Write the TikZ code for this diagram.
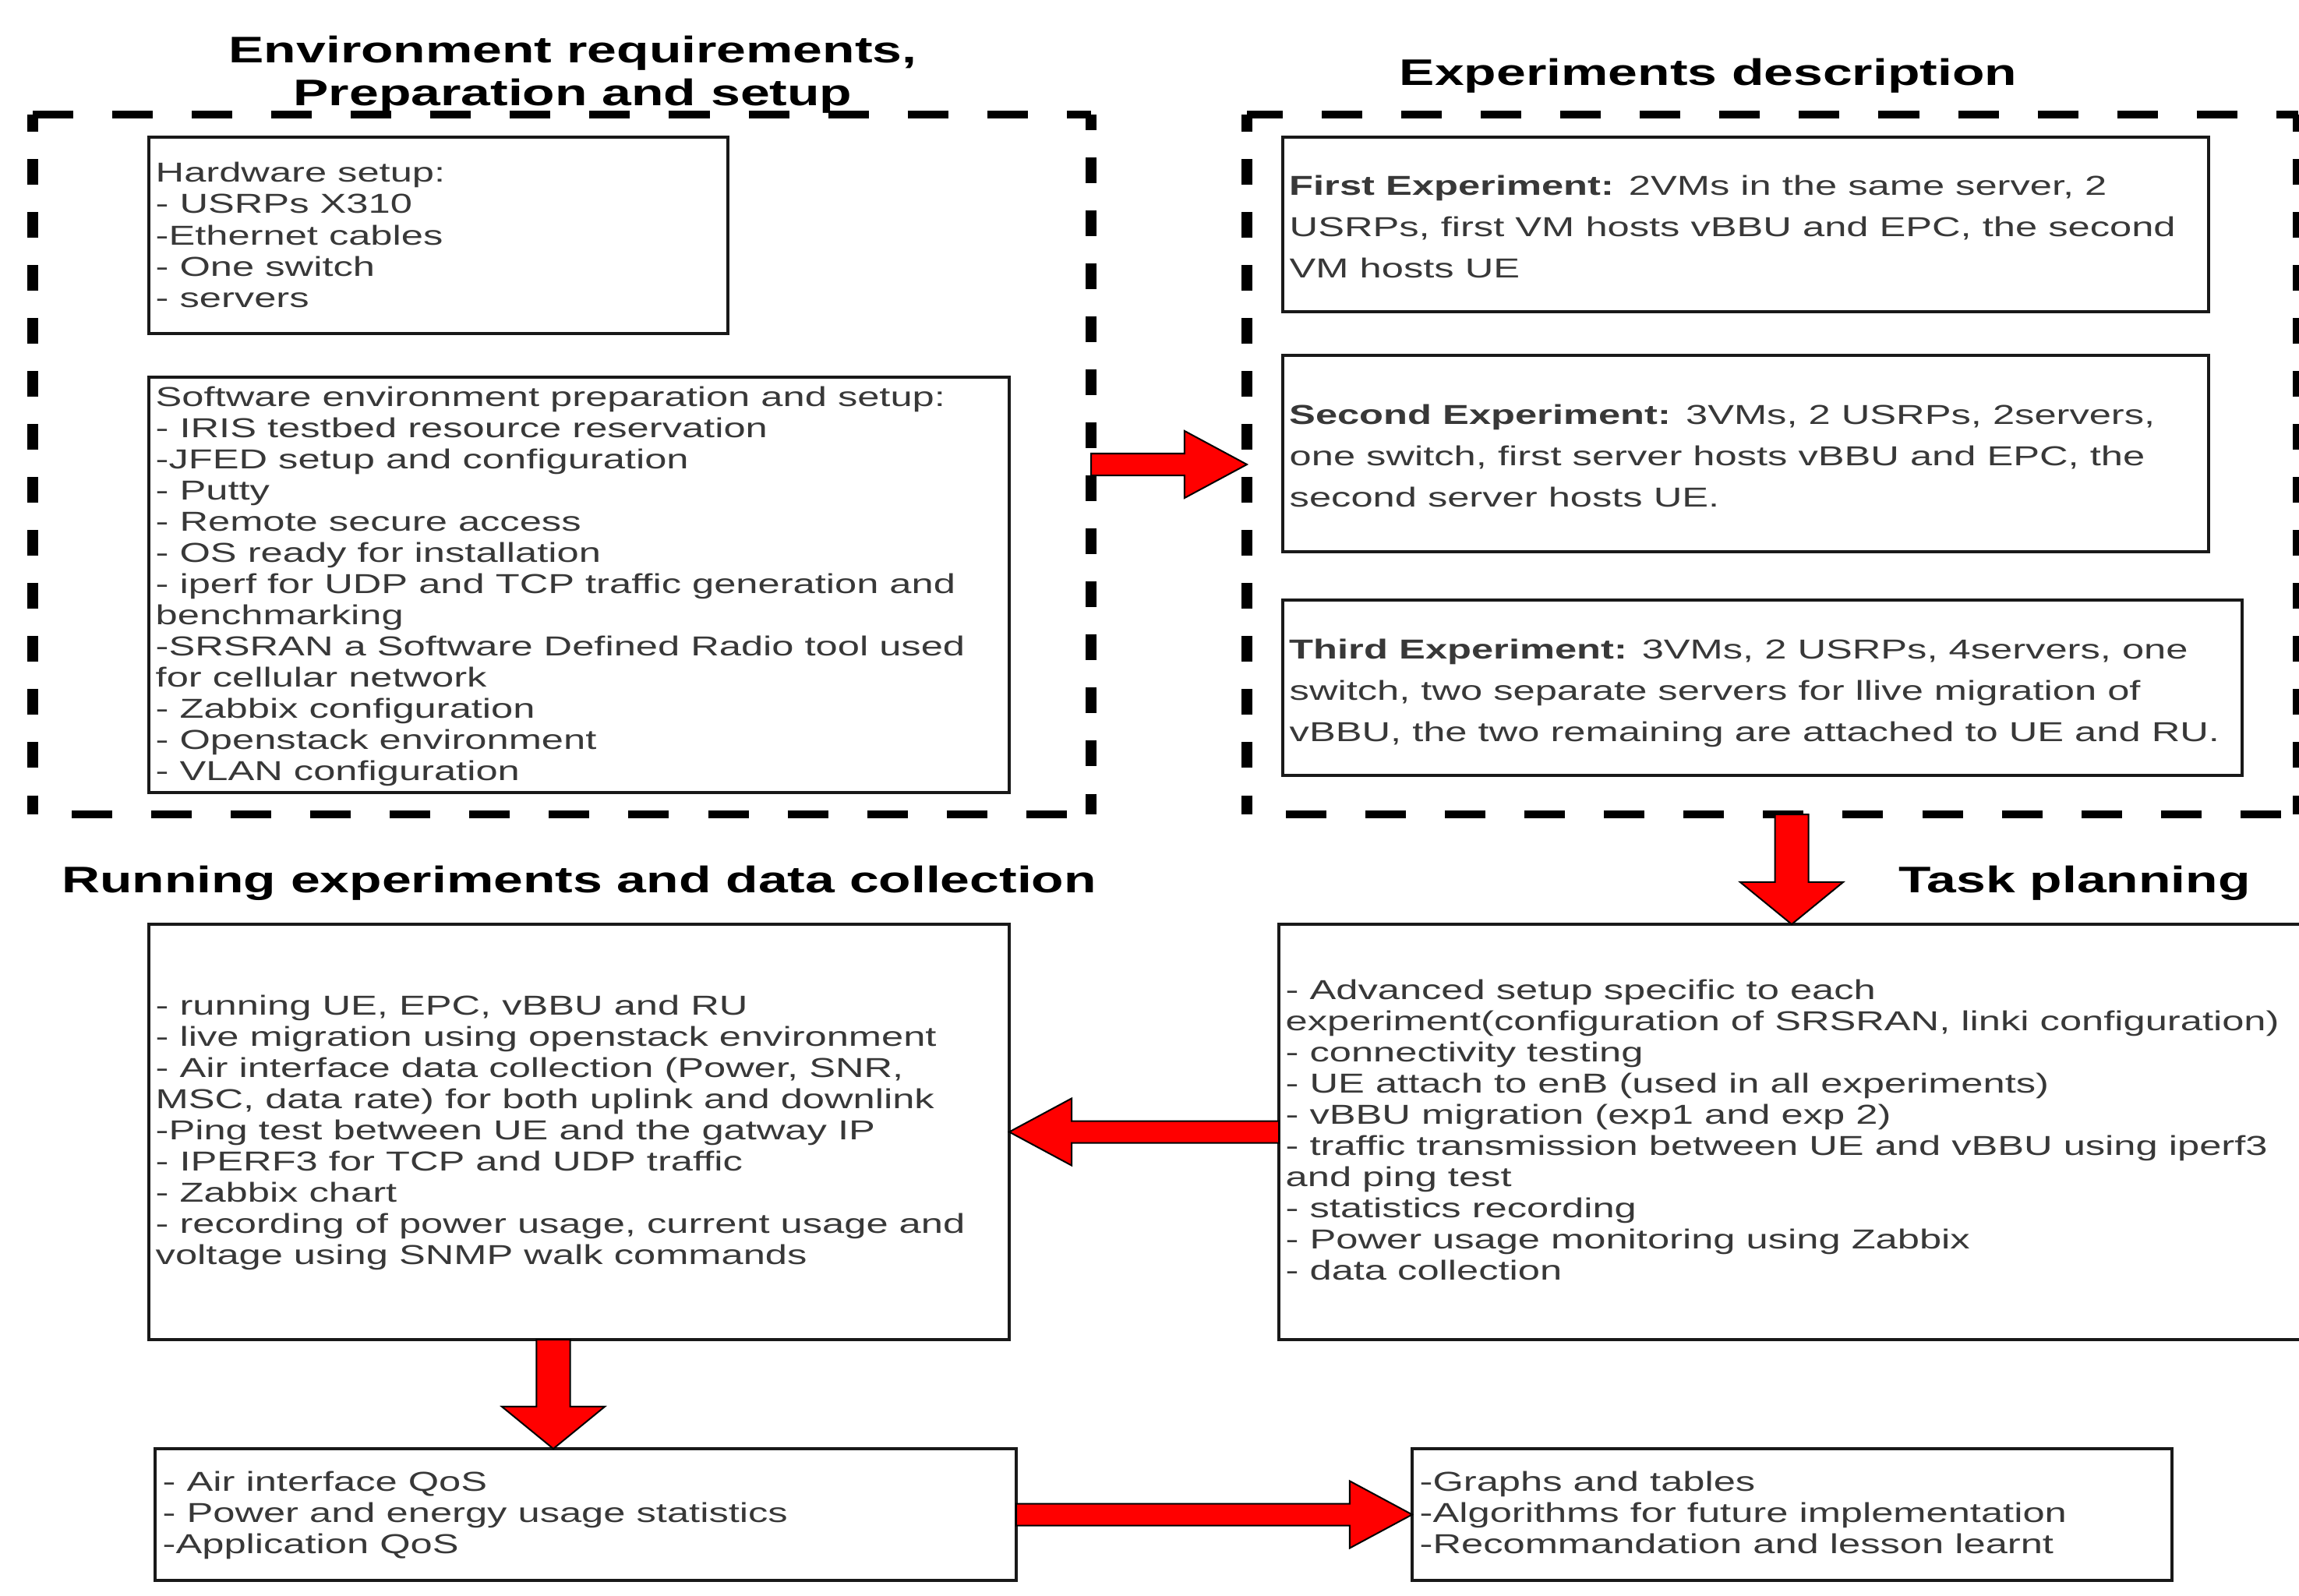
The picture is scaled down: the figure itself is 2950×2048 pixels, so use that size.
\documentclass[tikz,border=0pt]{standalone}
\usepackage{fontspec}
\setmainfont{Liberation Sans}
\usepackage{graphicx}
\usetikzlibrary{fit,calc}

\newcommand\bodytxt[1]{\scalebox{1.44}[1]{\fontsize{10pt}{11.38pt}\selectfont\begin{tabular}{@{}l@{}}#1\end{tabular}}}
\newcommand\exptxt[1]{\scalebox{1.44}[1]{\fontsize{10pt}{15.08pt}\selectfont\begin{tabular}{@{}l@{}}#1\end{tabular}}}
\newcommand\ttltxt[1]{\scalebox{1.43}[1]{\fontsize{13.5pt}{15.65pt}\selectfont\bfseries\begin{tabular}{@{}c@{}}#1\end{tabular}}}

\newcommand\arrR[2]{\filldraw[redarrow] let \p1=(#1), \p2=(#2) in
  (\x1,\y1+1.4mm) -- (\x2-8mm,\y1+1.4mm) -- (\x2-8mm,\y1+4.3mm) -- (\x2,\y1) --
  (\x2-8mm,\y1-4.3mm) -- (\x2-8mm,\y1-1.4mm) -- (\x1,\y1-1.4mm) -- cycle;}
\newcommand\arrL[2]{\filldraw[redarrow] let \p1=(#1), \p2=(#2) in
  (\x1,\y1+1.4mm) -- (\x2+8mm,\y1+1.4mm) -- (\x2+8mm,\y1+4.3mm) -- (\x2,\y1) --
  (\x2+8mm,\y1-4.3mm) -- (\x2+8mm,\y1-1.4mm) -- (\x1,\y1-1.4mm) -- cycle;}
\newcommand\arrD[2]{\filldraw[redarrow] let \p1=(#1), \p2=(#2) in
  (\x1-2.15mm,\y1) -- (\x1-2.15mm,\y2+5.4mm) -- (\x1-6.6mm,\y2+5.4mm) -- (\x1,\y2) --
  (\x1+6.6mm,\y2+5.4mm) -- (\x1+2.15mm,\y2+5.4mm) -- (\x1+2.15mm,\y1) -- cycle;}

\begin{document}
\begin{tikzpicture}[x=0.01cm,y=-0.01cm,
  box/.style={draw=black!90, line width=0.32mm, inner sep=0pt, outer sep=0pt},
  frame/.style={inner sep=0pt, outer sep=0pt},
  txt/.style={inner sep=0pt, anchor=west, text=black!78},
  ttl/.style={inner sep=0pt, text=black},
  hdash/.style={line width=0.95mm, dash pattern=on 5.2mm off 5mm},
  vdash/.style={line width=1.35mm, dash pattern=on 3.3mm off 3.5mm},
  redarrow/.style={fill=red, draw=black, line width=0.2mm, line join=miter}]
\useasboundingbox (0,0) rectangle (2950,2048);
\fill[white] (0,0) rectangle (2950,2048);
\clip (0,0) rectangle (2950,2048);

% titles
\node[ttl] (t1) at (735,97) {\ttltxt{Environment requirements,\\Preparation and setup}};
\node[ttl] (t2) at (2192,98) {\ttltxt{Experiments description}};
\node[ttl] (t3) at (743,1134) {\ttltxt{Running experiments and data collection}};
\node[ttl] (t4) at (2662,1134) {\ttltxt{Task planning}};

% dashed frames
\node[frame, fit={(42,147) (1400,1045)}] (env) {};
\node[frame, fit={(1600,147) (2949,1045)}] (exp) {};
\draw[hdash] (env.north west) -- (env.north east);
\draw[hdash, dash phase=5.2mm] (env.south west) -- (env.south east);
\draw[vdash, dash phase=1.1mm] (env.north west) -- (env.south west);
\draw[vdash, dash phase=1.3mm] (env.north east) -- (env.south east);
\draw[hdash, dash phase=0.6mm] (exp.north west) -- (exp.north east);
\draw[hdash, dash phase=5.2mm] (exp.south west) -- (exp.south east);
\draw[vdash, dash phase=1.1mm] (exp.north west) -- (exp.south west);
\draw[vdash, dash phase=1.1mm] (exp.north east) -- (exp.south east);

% boxes
\node[box, fit={(191,176) (934,428)}] (hw) {};
\node[box, fit={(191,484) (1295,1017)}] (sw) {};
\node[box, fit={(1646,176) (2834,400)}] (e1) {};
\node[box, fit={(1646,456) (2834,708)}] (e2) {};
\node[box, fit={(1646,770) (2877,995)}] (e3) {};
\node[box, fit={(191,1186) (1295,1719)}] (run) {};
\node[box, fit={(1641,1186) (2957,1719)}] (task) {};
\node[box, fit={(199,1859) (1304,2028)}] (res) {};
\node[box, fit={(1812,1859) (2787,2028)}] (out) {};

% texts
\node[txt] (hwt) at ($(hw.west)+(8,4)$) {\bodytxt{Hardware setup:\\- USRPs X310\\-Ethernet cables\\- One switch\\- servers}};
\node[txt] (swt) at ($(sw.west)+(8,3)$) {\bodytxt{Software environment preparation and setup:\\- IRIS testbed resource reservation\\-JFED setup and configuration\\- Putty\\- Remote secure access\\- OS ready for installation\\- iperf for UDP and TCP traffic generation and\\benchmarking\\-SRSRAN a Software Defined Radio tool used\\for cellular network\\- Zabbix configuration\\- Openstack environment\\- VLAN configuration}};
\node[txt] (e1t) at ($(e1.west)+(8,5)$) {\exptxt{\textbf{First Experiment:} 2VMs in the same server, 2\\USRPs, first VM hosts vBBU and EPC, the second\\VM hosts UE}};
\node[txt] (e2t) at ($(e2.west)+(8,5)$) {\exptxt{\textbf{Second Experiment:} 3VMs, 2 USRPs, 2servers,\\one switch, first server hosts vBBU and EPC, the\\second server hosts UE.}};
\node[txt] (e3t) at ($(e3.west)+(8,5)$) {\exptxt{\textbf{Third Experiment:} 3VMs, 2 USRPs, 4servers, one\\switch, two separate servers for llive migration of\\vBBU, the two remaining are attached to UE and RU.}};
\node[txt] (runt) at ($(run.west)+(8,2)$) {\bodytxt{- running UE, EPC, vBBU and RU\\- live migration using openstack environment\\- Air interface data collection (Power, SNR,\\MSC, data rate) for both uplink and downlink\\-Ping test between UE and the gatway IP\\- IPERF3 for TCP and UDP traffic\\- Zabbix chart\\- recording of power usage, current usage and\\voltage using SNMP walk commands}};
\node[txt] (taskt) at ($(task.west)+(8,2)$) {\bodytxt{- Advanced setup specific to each\\experiment(configuration of SRSRAN, linki configuration)\\- connectivity testing\\- UE attach to enB (used in all experiments)\\- vBBU migration (exp1 and exp 2)\\- traffic transmission between UE and vBBU using iperf3\\and ping test\\- statistics recording\\- Power usage monitoring using Zabbix\\- data collection}};
\node[txt] (rest) at ($(res.west)+(9,2)$) {\bodytxt{- Air interface QoS\\- Power and energy usage statistics\\-Application QoS}};
\node[txt] (outt) at ($(out.west)+(9,2)$) {\bodytxt{-Graphs and tables\\-Algorithms for future implementation\\-Recommandation and lesson learnt}};

% arrows
\coordinate (dcol) at (710,0);
\arrR{env.east}{exp.west}
\arrD{exp.south -| task.north}{task.north}
\arrL{task.west}{run.east}
\arrD{run.south -| dcol}{res.north -| dcol}
\arrR{res.east}{out.west}
\end{tikzpicture}
\end{document}
